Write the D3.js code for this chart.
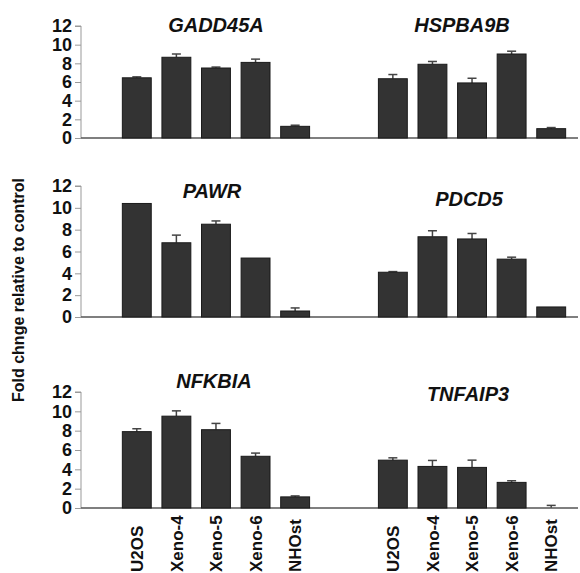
<!DOCTYPE html>
<html>
<head>
<meta charset="utf-8">
<script src="https://cdn.jsdelivr.net/npm/d3@7"></script>
<style>
  body { margin: 0; background: #fff; }
  text { font-family: "Liberation Sans", Arial, sans-serif; }
</style>
</head>
<body>
<div id="chart"></div>
<script>
// cell lines on the x axis (same for both columns)
const cellLines = ["U2OS", "Xeno-4", "Xeno-5", "Xeno-6", "NHOst"];
const yTicks = [0, 2, 4, 6, 8, 10, 12];

// fold change means and error bars
const gadd45aMeans = [6.45, 8.65, 7.5, 8.1, 1.25];
const gadd45aErrors = [0.1, 0.35, 0.1, 0.35, 0.12];
const hspba9bMeans = [6.35, 7.9, 5.9, 9.0, 1.0];
const hspba9bErrors = [0.45, 0.3, 0.5, 0.3, 0.12];
const pawrMeans = [10.4, 6.8, 8.5, 5.4, 0.55];
const pawrErrors = [0, 0.7, 0.3, 0, 0.28];
const pdcd5Means = [4.1, 7.35, 7.15, 5.3, 0.92];
const pdcd5Errors = [0.06, 0.55, 0.5, 0.18, 0];
const nfkbiaMeans = [7.9, 9.5, 8.1, 5.35, 1.15];
const nfkbiaErrors = [0.3, 0.55, 0.65, 0.33, 0.1];
const tnfaip3Means = [4.95, 4.3, 4.2, 2.65, 0.02];
const tnfaip3Errors = [0.24, 0.62, 0.75, 0.17, 0.25];

const width = 580, height = 573;

// layout: one row per pair of genes
const rows = [
  { top: 26, bottom: 138, left: { gene: "GADD45A", means: gadd45aMeans, errs: gadd45aErrors, titleY: 32, dx: 0 },
                          right: { gene: "HSPBA9B", means: hspba9bMeans, errs: hspba9bErrors, titleY: 32, dx: -10 } },
  { top: 186, bottom: 317, left: { gene: "PAWR", means: pawrMeans, errs: pawrErrors, titleY: 198, dx: -4 },
                           right: { gene: "PDCD5", means: pdcd5Means, errs: pdcd5Errors, titleY: 206, dx: -3 } },
  { top: 392, bottom: 508, left: { gene: "NFKBIA", means: nfkbiaMeans, errs: nfkbiaErrors, titleY: 388, dx: -2 },
                           right: { gene: "TNFAIP3", means: tnfaip3Means, errs: tnfaip3Errors, titleY: 401, dx: -4 } }
];

const axisX = 81;

const svg = d3.select("#chart").append("svg")
  .attr("width", width)
  .attr("height", height);

// outer scale: the two gene columns
const groupScale = d3.scaleBand()
  .domain(["left", "right"])
  .range([117, 571])
  .paddingInner(0.227)
  .paddingOuter(0);

// inner scale: cell lines inside a column
const barScale = d3.scaleBand()
  .domain(cellLines)
  .range([0, groupScale.bandwidth()])
  .paddingInner(0.27)
  .paddingOuter(0.135);

rows.forEach(row => {
  const y = d3.scaleLinear().domain([0, 12]).range([row.bottom, row.top]);

  // y axis
  const yAxis = d3.axisLeft(y).tickValues(yTicks).tickSize(6).tickPadding(3);
  const gy = svg.append("g")
    .attr("transform", `translate(${axisX},0)`)
    .call(yAxis);
  gy.select(".domain").attr("stroke", "#999").attr("d", `M-6,${row.top}H0V${row.bottom}`);
  gy.selectAll(".tick line").attr("stroke", "#999");
  gy.selectAll(".tick text")
    .attr("fill", "#111")
    .style("font-size", "18px")
    .style("font-weight", "bold");

  // baseline
  svg.append("line")
    .attr("x1", axisX).attr("x2", 578)
    .attr("y1", y(0)).attr("y2", y(0))
    .attr("stroke", "#555")
    .attr("stroke-width", 1.5);

  ["left", "right"].forEach(side => {
    const panel = row[side];
    const g = svg.append("g")
      .attr("transform", `translate(${groupScale(side)},0)`);

    const data = cellLines.map((c, i) => ({ cell: c, mean: panel.means[i], err: panel.errs[i] }));

    // error bars (drawn under bars, only upper part shows)
    const eb = g.selectAll(".err").data(data.filter(d => d.err > 0)).enter().append("g");
    eb.append("line")
      .attr("x1", d => barScale(d.cell) + barScale.bandwidth() / 2)
      .attr("x2", d => barScale(d.cell) + barScale.bandwidth() / 2)
      .attr("y1", d => y(d.mean))
      .attr("y2", d => y(d.mean + d.err))
      .attr("stroke", "#444")
      .attr("stroke-width", 1.5);
    eb.append("line")
      .attr("x1", d => barScale(d.cell) + barScale.bandwidth() / 2 - 4.5)
      .attr("x2", d => barScale(d.cell) + barScale.bandwidth() / 2 + 4.5)
      .attr("y1", d => y(d.mean + d.err))
      .attr("y2", d => y(d.mean + d.err))
      .attr("stroke", "#444")
      .attr("stroke-width", 1.5);

    // bars
    g.selectAll(".bar").data(data.filter(d => d.mean > 0.1)).enter().append("rect")
      .attr("class", "bar")
      .attr("x", d => barScale(d.cell))
      .attr("y", d => y(d.mean))
      .attr("width", barScale.bandwidth())
      .attr("height", d => y(0) - y(d.mean))
      .attr("fill", "#333")
      .attr("stroke", "#1a1a1a")
      .attr("stroke-width", 1);

    // gene title
    svg.append("text")
      .attr("x", groupScale(side) + groupScale.bandwidth() / 2 + panel.dx)
      .attr("y", panel.titleY)
      .attr("text-anchor", "middle")
      .style("font-size", "20px")
      .style("font-weight", "bold")
      .style("font-style", "italic")
      .attr("fill", "#111")
      .text(panel.gene);
  });
});

// x labels under the bottom row
["left", "right"].forEach(side => {
  svg.append("g")
    .attr("transform", `translate(${groupScale(side)},0)`)
    .selectAll("text").data(cellLines).enter().append("text")
    .attr("transform", d => `translate(${barScale(d) + barScale.bandwidth() / 2},572) rotate(-90)`)
    .attr("dy", "0.36em")
    .attr("text-anchor", "start")
    .style("font-size", "17px")
    .style("font-weight", "bold")
    .attr("fill", "#111")
    .text(d => d);
});

// y axis title
svg.append("text")
  .attr("transform", "translate(24,290) rotate(-90)")
  .attr("text-anchor", "middle")
  .style("font-size", "16px")
  .style("font-weight", "bold")
  .attr("fill", "#111")
  .text("Fold chnge relative to control");
</script>
</body>
</html>
